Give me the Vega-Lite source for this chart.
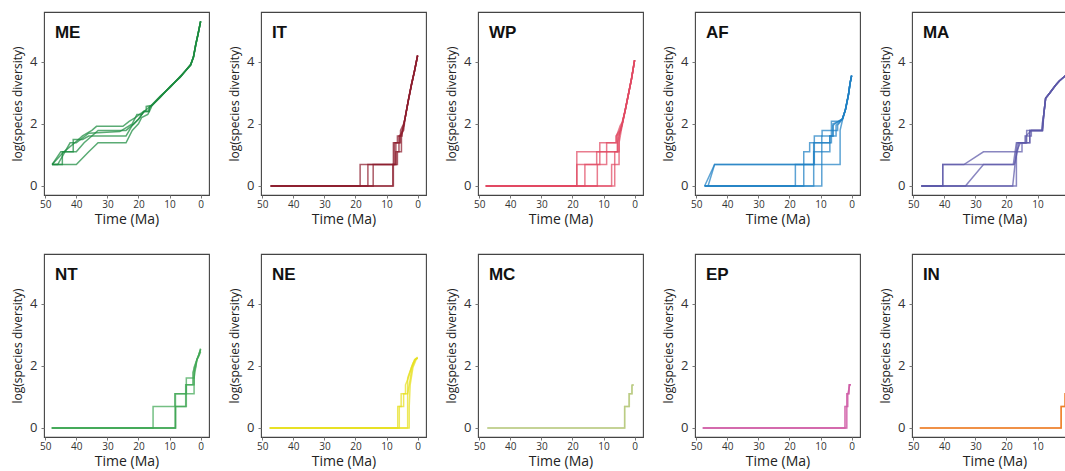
{
  "$schema": "https://vega.github.io/schema/vega-lite/v6.json",
  "padding": {"left": 11, "top": 11, "right": 0, "bottom": 0},
  "background": "white",
  "data": {"values": [
    {"region":"ME","rep":1,"t":47.8,"y":0.69},{"region":"ME","rep":1,"t":44,"y":1.1},{"region":"ME","rep":1,"t":40.5,"y":1.39},{"region":"ME","rep":1,"t":38,"y":1.61},{"region":"ME","rep":1,"t":35,"y":1.79},{"region":"ME","rep":1,"t":33.5,"y":1.92},{"region":"ME","rep":1,"t":25,"y":1.92},{"region":"ME","rep":1,"t":23,"y":2.08},{"region":"ME","rep":1,"t":21,"y":2.2},{"region":"ME","rep":1,"t":19,"y":2.35},{"region":"ME","rep":1,"t":17.5,"y":2.45},{"region":"ME","rep":1,"t":17.5,"y":2.56},
    {"region":"ME","rep":1,"t":15.6,"y":2.6},{"region":"ME","rep":1,"t":12.9,"y":2.88},{"region":"ME","rep":1,"t":9.7,"y":3.2},{"region":"ME","rep":1,"t":6.5,"y":3.52},{"region":"ME","rep":1,"t":3.2,"y":3.9},{"region":"ME","rep":1,"t":2.3,"y":4.15},{"region":"ME","rep":1,"t":1.6,"y":4.53},{"region":"ME","rep":1,"t":0.8,"y":4.9},{"region":"ME","rep":1,"t":0,"y":5.3},
    {"region":"ME","rep":2,"t":47.8,"y":0.69},{"region":"ME","rep":2,"t":44.5,"y":0.69},{"region":"ME","rep":2,"t":44.5,"y":1.1},{"region":"ME","rep":2,"t":40,"y":1.1},{"region":"ME","rep":2,"t":37.5,"y":1.39},{"region":"ME","rep":2,"t":35,"y":1.61},{"region":"ME","rep":2,"t":33,"y":1.79},{"region":"ME","rep":2,"t":24,"y":1.79},{"region":"ME","rep":2,"t":21.5,"y":2.0},{"region":"ME","rep":2,"t":19.5,"y":2.2},{"region":"ME","rep":2,"t":18.3,"y":2.4},{"region":"ME","rep":2,"t":16.5,"y":2.4},{"region":"ME","rep":2,"t":16.5,"y":2.55},
    {"region":"ME","rep":2,"t":15.6,"y":2.6},{"region":"ME","rep":2,"t":12.9,"y":2.86},{"region":"ME","rep":2,"t":9.7,"y":3.22},{"region":"ME","rep":2,"t":6.5,"y":3.5},{"region":"ME","rep":2,"t":3.2,"y":3.92},{"region":"ME","rep":2,"t":2.3,"y":4.15},{"region":"ME","rep":2,"t":1.6,"y":4.53},{"region":"ME","rep":2,"t":0.8,"y":4.9},{"region":"ME","rep":2,"t":0,"y":5.3},
    {"region":"ME","rep":3,"t":47.8,"y":0.69},{"region":"ME","rep":3,"t":40,"y":0.69},{"region":"ME","rep":3,"t":36,"y":1.1},{"region":"ME","rep":3,"t":33,"y":1.39},{"region":"ME","rep":3,"t":24,"y":1.39},{"region":"ME","rep":3,"t":22,"y":1.79},{"region":"ME","rep":3,"t":20,"y":2.0},{"region":"ME","rep":3,"t":19,"y":2.2},{"region":"ME","rep":3,"t":17,"y":2.3},{"region":"ME","rep":3,"t":16,"y":2.5},
    {"region":"ME","rep":3,"t":15.6,"y":2.6},{"region":"ME","rep":3,"t":12.9,"y":2.88},{"region":"ME","rep":3,"t":9.7,"y":3.2},{"region":"ME","rep":3,"t":6.5,"y":3.52},{"region":"ME","rep":3,"t":3.2,"y":3.9},{"region":"ME","rep":3,"t":2.3,"y":4.15},{"region":"ME","rep":3,"t":1.6,"y":4.53},{"region":"ME","rep":3,"t":0.8,"y":4.9},{"region":"ME","rep":3,"t":0,"y":5.3},
    {"region":"ME","rep":4,"t":47.8,"y":0.69},{"region":"ME","rep":4,"t":45,"y":1.1},{"region":"ME","rep":4,"t":41,"y":1.1},{"region":"ME","rep":4,"t":41,"y":1.5},{"region":"ME","rep":4,"t":38,"y":1.5},{"region":"ME","rep":4,"t":36,"y":1.61},{"region":"ME","rep":4,"t":24,"y":1.61},{"region":"ME","rep":4,"t":22,"y":1.95},{"region":"ME","rep":4,"t":20,"y":2.15},{"region":"ME","rep":4,"t":18.3,"y":2.4},{"region":"ME","rep":4,"t":17,"y":2.4},
    {"region":"ME","rep":4,"t":15.6,"y":2.62},{"region":"ME","rep":4,"t":12.9,"y":2.9},{"region":"ME","rep":4,"t":9.7,"y":3.18},{"region":"ME","rep":4,"t":6.5,"y":3.54},{"region":"ME","rep":4,"t":3.2,"y":3.88},{"region":"ME","rep":4,"t":2.3,"y":4.15},{"region":"ME","rep":4,"t":1.6,"y":4.53},{"region":"ME","rep":4,"t":0.8,"y":4.9},{"region":"ME","rep":4,"t":0,"y":5.3},
    {"region":"ME","rep":5,"t":47.8,"y":0.69},{"region":"ME","rep":5,"t":46,"y":0.69},{"region":"ME","rep":5,"t":42,"y":1.39},{"region":"ME","rep":5,"t":40,"y":1.39},{"region":"ME","rep":5,"t":36,"y":1.7},{"region":"ME","rep":5,"t":26,"y":1.75},{"region":"ME","rep":5,"t":22,"y":2.0},{"region":"ME","rep":5,"t":20.5,"y":2.3},{"region":"ME","rep":5,"t":19,"y":2.3},{"region":"ME","rep":5,"t":17,"y":2.5},
    {"region":"ME","rep":5,"t":15.6,"y":2.6},{"region":"ME","rep":5,"t":12.9,"y":2.88},{"region":"ME","rep":5,"t":9.7,"y":3.2},{"region":"ME","rep":5,"t":6.5,"y":3.52},{"region":"ME","rep":5,"t":3.2,"y":3.9},{"region":"ME","rep":5,"t":2.3,"y":4.15},{"region":"ME","rep":5,"t":1.6,"y":4.53},{"region":"ME","rep":5,"t":0.8,"y":4.9},{"region":"ME","rep":5,"t":0,"y":5.3},

    {"region":"IT","rep":1,"t":47.3,"y":0},{"region":"IT","rep":1,"t":18.5,"y":0},{"region":"IT","rep":1,"t":18.5,"y":0.69},{"region":"IT","rep":1,"t":7.5,"y":0.69},{"region":"IT","rep":1,"t":7.5,"y":1.39},{"region":"IT","rep":1,"t":6,"y":1.39},{"region":"IT","rep":1,"t":6,"y":1.61},{"region":"IT","rep":1,"t":5,"y":1.61},{"region":"IT","rep":1,"t":5,"y":1.79},{"region":"IT","rep":1,"t":4.5,"y":1.95},{"region":"IT","rep":1,"t":4,"y":2.2},{"region":"IT","rep":1,"t":3,"y":2.75},{"region":"IT","rep":1,"t":2,"y":3.25},{"region":"IT","rep":1,"t":1,"y":3.7},{"region":"IT","rep":1,"t":0,"y":4.2},
    {"region":"IT","rep":2,"t":47.3,"y":0},{"region":"IT","rep":2,"t":16,"y":0},{"region":"IT","rep":2,"t":16,"y":0.69},{"region":"IT","rep":2,"t":7,"y":0.69},{"region":"IT","rep":2,"t":7,"y":1.1},{"region":"IT","rep":2,"t":6,"y":1.1},{"region":"IT","rep":2,"t":6,"y":1.39},{"region":"IT","rep":2,"t":5.5,"y":1.39},{"region":"IT","rep":2,"t":5.5,"y":1.61},{"region":"IT","rep":2,"t":4.5,"y":1.79},{"region":"IT","rep":2,"t":4,"y":2.2},{"region":"IT","rep":2,"t":3,"y":2.75},{"region":"IT","rep":2,"t":2,"y":3.25},{"region":"IT","rep":2,"t":1,"y":3.7},{"region":"IT","rep":2,"t":0,"y":4.2},
    {"region":"IT","rep":3,"t":47.3,"y":0},{"region":"IT","rep":3,"t":14.3,"y":0},{"region":"IT","rep":3,"t":14.3,"y":0.69},{"region":"IT","rep":3,"t":6.5,"y":0.69},{"region":"IT","rep":3,"t":6.5,"y":1.1},{"region":"IT","rep":3,"t":5.2,"y":1.1},{"region":"IT","rep":3,"t":5.2,"y":1.61},{"region":"IT","rep":3,"t":4.5,"y":1.95},{"region":"IT","rep":3,"t":4,"y":2.2},{"region":"IT","rep":3,"t":3,"y":2.75},{"region":"IT","rep":3,"t":2,"y":3.25},{"region":"IT","rep":3,"t":1,"y":3.7},{"region":"IT","rep":3,"t":0,"y":4.2},
    {"region":"IT","rep":4,"t":47.3,"y":0},{"region":"IT","rep":4,"t":7.8,"y":0},{"region":"IT","rep":4,"t":7.8,"y":1.39},{"region":"IT","rep":4,"t":6.5,"y":1.39},{"region":"IT","rep":4,"t":6.5,"y":1.61},{"region":"IT","rep":4,"t":5.5,"y":1.61},{"region":"IT","rep":4,"t":5.5,"y":1.79},{"region":"IT","rep":4,"t":4.5,"y":2.0},{"region":"IT","rep":4,"t":4,"y":2.2},{"region":"IT","rep":4,"t":3,"y":2.75},{"region":"IT","rep":4,"t":2,"y":3.25},{"region":"IT","rep":4,"t":1,"y":3.7},{"region":"IT","rep":4,"t":0,"y":4.2},
    {"region":"IT","rep":5,"t":47.3,"y":0},{"region":"IT","rep":5,"t":8,"y":0},{"region":"IT","rep":5,"t":8,"y":0.69},{"region":"IT","rep":5,"t":7,"y":0.69},{"region":"IT","rep":5,"t":7,"y":1.39},{"region":"IT","rep":5,"t":5.8,"y":1.39},{"region":"IT","rep":5,"t":5.8,"y":1.61},{"region":"IT","rep":5,"t":4.8,"y":1.79},{"region":"IT","rep":5,"t":4,"y":2.2},{"region":"IT","rep":5,"t":3,"y":2.75},{"region":"IT","rep":5,"t":2,"y":3.25},{"region":"IT","rep":5,"t":1,"y":3.7},{"region":"IT","rep":5,"t":0,"y":4.2},

    {"region":"WP","rep":1,"t":47.9,"y":0},{"region":"WP","rep":1,"t":18.6,"y":0},{"region":"WP","rep":1,"t":18.6,"y":1.1},{"region":"WP","rep":1,"t":5.5,"y":1.1},{"region":"WP","rep":1,"t":5.5,"y":1.61},{"region":"WP","rep":1,"t":4.5,"y":1.79},{"region":"WP","rep":1,"t":4,"y":2.0},{"region":"WP","rep":1,"t":3,"y":2.45},{"region":"WP","rep":1,"t":2,"y":2.95},{"region":"WP","rep":1,"t":1,"y":3.45},{"region":"WP","rep":1,"t":0,"y":4.05},
    {"region":"WP","rep":2,"t":47.9,"y":0},{"region":"WP","rep":2,"t":18.6,"y":0},{"region":"WP","rep":2,"t":18.6,"y":0.69},{"region":"WP","rep":2,"t":12.2,"y":0.69},{"region":"WP","rep":2,"t":12.2,"y":1.1},{"region":"WP","rep":2,"t":5,"y":1.1},{"region":"WP","rep":2,"t":5,"y":1.61},{"region":"WP","rep":2,"t":4.5,"y":1.79},{"region":"WP","rep":2,"t":4,"y":2.0},{"region":"WP","rep":2,"t":3,"y":2.45},{"region":"WP","rep":2,"t":2,"y":2.95},{"region":"WP","rep":2,"t":1,"y":3.45},{"region":"WP","rep":2,"t":0,"y":4.05},
    {"region":"WP","rep":3,"t":47.9,"y":0},{"region":"WP","rep":3,"t":16,"y":0},{"region":"WP","rep":3,"t":16,"y":0.69},{"region":"WP","rep":3,"t":11.2,"y":0.69},{"region":"WP","rep":3,"t":11.2,"y":1.39},{"region":"WP","rep":3,"t":6,"y":1.39},{"region":"WP","rep":3,"t":6,"y":1.61},{"region":"WP","rep":3,"t":4.8,"y":1.79},{"region":"WP","rep":3,"t":4,"y":2.0},{"region":"WP","rep":3,"t":3,"y":2.45},{"region":"WP","rep":3,"t":2,"y":2.95},{"region":"WP","rep":3,"t":1,"y":3.45},{"region":"WP","rep":3,"t":0,"y":4.05},
    {"region":"WP","rep":4,"t":47.9,"y":0},{"region":"WP","rep":4,"t":12,"y":0},{"region":"WP","rep":4,"t":12,"y":0.69},{"region":"WP","rep":4,"t":9,"y":0.69},{"region":"WP","rep":4,"t":9,"y":1.39},{"region":"WP","rep":4,"t":5.8,"y":1.39},{"region":"WP","rep":4,"t":5.8,"y":1.61},{"region":"WP","rep":4,"t":4.6,"y":1.95},{"region":"WP","rep":4,"t":4,"y":2.05},{"region":"WP","rep":4,"t":3,"y":2.45},{"region":"WP","rep":4,"t":2,"y":2.95},{"region":"WP","rep":4,"t":1,"y":3.45},{"region":"WP","rep":4,"t":0,"y":4.05},
    {"region":"WP","rep":5,"t":47.9,"y":0},{"region":"WP","rep":5,"t":7.4,"y":0},{"region":"WP","rep":5,"t":7.4,"y":0.69},{"region":"WP","rep":5,"t":6.4,"y":0.69},{"region":"WP","rep":5,"t":6.4,"y":1.1},{"region":"WP","rep":5,"t":5.5,"y":1.1},{"region":"WP","rep":5,"t":5.5,"y":1.39},{"region":"WP","rep":5,"t":4.6,"y":1.79},{"region":"WP","rep":5,"t":4,"y":2.0},{"region":"WP","rep":5,"t":3,"y":2.45},{"region":"WP","rep":5,"t":2,"y":2.95},{"region":"WP","rep":5,"t":1,"y":3.45},{"region":"WP","rep":5,"t":0,"y":4.05},
    {"region":"WP","rep":6,"t":47.9,"y":0},{"region":"WP","rep":6,"t":6.4,"y":0},{"region":"WP","rep":6,"t":6.4,"y":0.69},{"region":"WP","rep":6,"t":5,"y":0.69},{"region":"WP","rep":6,"t":5,"y":1.39},{"region":"WP","rep":6,"t":4.3,"y":1.79},{"region":"WP","rep":6,"t":3,"y":2.45},{"region":"WP","rep":6,"t":2,"y":2.95},{"region":"WP","rep":6,"t":1,"y":3.45},{"region":"WP","rep":6,"t":0,"y":4.05},

    {"region":"AF","rep":1,"t":47.3,"y":0},{"region":"AF","rep":1,"t":44.1,"y":0.69},{"region":"AF","rep":1,"t":15.4,"y":0.69},{"region":"AF","rep":1,"t":15.4,"y":1.1},{"region":"AF","rep":1,"t":13.5,"y":1.1},{"region":"AF","rep":1,"t":13.5,"y":1.39},{"region":"AF","rep":1,"t":12,"y":1.39},{"region":"AF","rep":1,"t":12,"y":1.61},{"region":"AF","rep":1,"t":9.5,"y":1.61},{"region":"AF","rep":1,"t":9.5,"y":1.79},{"region":"AF","rep":1,"t":6.5,"y":1.79},{"region":"AF","rep":1,"t":6.5,"y":2.08},{"region":"AF","rep":1,"t":4,"y":2.08},{"region":"AF","rep":1,"t":3,"y":2.15},{"region":"AF","rep":1,"t":2,"y":2.45},{"region":"AF","rep":1,"t":1,"y":2.95},{"region":"AF","rep":1,"t":0.5,"y":3.3},{"region":"AF","rep":1,"t":0,"y":3.55},
    {"region":"AF","rep":2,"t":46.2,"y":0},{"region":"AF","rep":2,"t":44.1,"y":0.69},{"region":"AF","rep":2,"t":3.7,"y":0.69},{"region":"AF","rep":2,"t":3.7,"y":1.79},{"region":"AF","rep":2,"t":3,"y":2.1},{"region":"AF","rep":2,"t":2,"y":2.45},{"region":"AF","rep":2,"t":1,"y":2.95},{"region":"AF","rep":2,"t":0.5,"y":3.3},{"region":"AF","rep":2,"t":0,"y":3.55},
    {"region":"AF","rep":3,"t":47.3,"y":0},{"region":"AF","rep":3,"t":18.1,"y":0},{"region":"AF","rep":3,"t":18.1,"y":0.69},{"region":"AF","rep":3,"t":12.2,"y":0.69},{"region":"AF","rep":3,"t":12.2,"y":1.1},{"region":"AF","rep":3,"t":9.6,"y":1.1},{"region":"AF","rep":3,"t":9.6,"y":1.39},{"region":"AF","rep":3,"t":6.5,"y":1.39},{"region":"AF","rep":3,"t":6.5,"y":1.79},{"region":"AF","rep":3,"t":4.5,"y":1.79},{"region":"AF","rep":3,"t":4.5,"y":1.95},{"region":"AF","rep":3,"t":3,"y":2.15},{"region":"AF","rep":3,"t":2,"y":2.45},{"region":"AF","rep":3,"t":1,"y":2.95},{"region":"AF","rep":3,"t":0.5,"y":3.3},{"region":"AF","rep":3,"t":0,"y":3.55},
    {"region":"AF","rep":4,"t":47.3,"y":0},{"region":"AF","rep":4,"t":15.4,"y":0},{"region":"AF","rep":4,"t":15.4,"y":0.69},{"region":"AF","rep":4,"t":12,"y":0.69},{"region":"AF","rep":4,"t":12,"y":1.39},{"region":"AF","rep":4,"t":7,"y":1.39},{"region":"AF","rep":4,"t":7,"y":1.61},{"region":"AF","rep":4,"t":6,"y":1.61},{"region":"AF","rep":4,"t":6,"y":2.0},{"region":"AF","rep":4,"t":4,"y":2.08},{"region":"AF","rep":4,"t":3,"y":2.15},{"region":"AF","rep":4,"t":2,"y":2.45},{"region":"AF","rep":4,"t":1,"y":2.95},{"region":"AF","rep":4,"t":0.5,"y":3.3},{"region":"AF","rep":4,"t":0,"y":3.55},
    {"region":"AF","rep":5,"t":47.3,"y":0},{"region":"AF","rep":5,"t":9.6,"y":0},{"region":"AF","rep":5,"t":9.6,"y":1.1},{"region":"AF","rep":5,"t":7,"y":1.1},{"region":"AF","rep":5,"t":7,"y":1.61},{"region":"AF","rep":5,"t":5,"y":1.61},{"region":"AF","rep":5,"t":5,"y":1.95},{"region":"AF","rep":5,"t":3,"y":2.15},{"region":"AF","rep":5,"t":2,"y":2.45},{"region":"AF","rep":5,"t":1,"y":2.95},{"region":"AF","rep":5,"t":0.5,"y":3.3},{"region":"AF","rep":5,"t":0,"y":3.55},
    {"region":"AF","rep":6,"t":47.3,"y":0},{"region":"AF","rep":6,"t":12.2,"y":0},{"region":"AF","rep":6,"t":12.2,"y":1.39},{"region":"AF","rep":6,"t":9.6,"y":1.39},{"region":"AF","rep":6,"t":9.6,"y":1.61},{"region":"AF","rep":6,"t":6,"y":1.61},{"region":"AF","rep":6,"t":6,"y":1.95},{"region":"AF","rep":6,"t":4,"y":2.1},{"region":"AF","rep":6,"t":3,"y":2.15},{"region":"AF","rep":6,"t":2,"y":2.45},{"region":"AF","rep":6,"t":1,"y":2.95},{"region":"AF","rep":6,"t":0.5,"y":3.3},{"region":"AF","rep":6,"t":0,"y":3.55},

    {"region":"MA","rep":1,"t":47.4,"y":0},{"region":"MA","rep":1,"t":40.5,"y":0},{"region":"MA","rep":1,"t":40.5,"y":0.69},{"region":"MA","rep":1,"t":33.7,"y":0.69},{"region":"MA","rep":1,"t":27.4,"y":1.1},{"region":"MA","rep":1,"t":16.5,"y":1.1},{"region":"MA","rep":1,"t":16,"y":1.39},{"region":"MA","rep":1,"t":13.5,"y":1.39},{"region":"MA","rep":1,"t":13.5,"y":1.79},{"region":"MA","rep":1,"t":8.5,"y":1.79},{"region":"MA","rep":1,"t":8,"y":2.3},{"region":"MA","rep":1,"t":7.4,"y":2.82},{"region":"MA","rep":1,"t":6,"y":3.0},{"region":"MA","rep":1,"t":4.2,"y":3.24},{"region":"MA","rep":1,"t":3,"y":3.38},{"region":"MA","rep":1,"t":1.6,"y":3.5},{"region":"MA","rep":1,"t":0,"y":3.65},
    {"region":"MA","rep":2,"t":47.4,"y":0},{"region":"MA","rep":2,"t":40.5,"y":0},{"region":"MA","rep":2,"t":40.5,"y":0.69},{"region":"MA","rep":2,"t":17.5,"y":0.69},{"region":"MA","rep":2,"t":16.5,"y":1.1},{"region":"MA","rep":2,"t":15,"y":1.1},{"region":"MA","rep":2,"t":15,"y":1.39},{"region":"MA","rep":2,"t":12.5,"y":1.39},{"region":"MA","rep":2,"t":12.5,"y":1.79},{"region":"MA","rep":2,"t":8.5,"y":1.79},{"region":"MA","rep":2,"t":8.5,"y":2.0},{"region":"MA","rep":2,"t":8,"y":2.3},{"region":"MA","rep":2,"t":7.4,"y":2.82},{"region":"MA","rep":2,"t":6,"y":3.0},{"region":"MA","rep":2,"t":4.2,"y":3.24},{"region":"MA","rep":2,"t":3,"y":3.38},{"region":"MA","rep":2,"t":1.6,"y":3.5},{"region":"MA","rep":2,"t":0,"y":3.65},
    {"region":"MA","rep":3,"t":47.4,"y":0},{"region":"MA","rep":3,"t":33.2,"y":0},{"region":"MA","rep":3,"t":27.4,"y":0.69},{"region":"MA","rep":3,"t":17.8,"y":0.69},{"region":"MA","rep":3,"t":16.8,"y":1.39},{"region":"MA","rep":3,"t":13.7,"y":1.39},{"region":"MA","rep":3,"t":13.7,"y":1.61},{"region":"MA","rep":3,"t":12,"y":1.79},{"region":"MA","rep":3,"t":8.5,"y":1.79},{"region":"MA","rep":3,"t":8,"y":2.3},{"region":"MA","rep":3,"t":7.4,"y":2.82},{"region":"MA","rep":3,"t":6,"y":3.0},{"region":"MA","rep":3,"t":4.2,"y":3.24},{"region":"MA","rep":3,"t":3,"y":3.38},{"region":"MA","rep":3,"t":1.6,"y":3.5},{"region":"MA","rep":3,"t":0,"y":3.65},
    {"region":"MA","rep":4,"t":47.4,"y":0},{"region":"MA","rep":4,"t":18,"y":0},{"region":"MA","rep":4,"t":16.5,"y":1.39},{"region":"MA","rep":4,"t":14,"y":1.39},{"region":"MA","rep":4,"t":14,"y":1.61},{"region":"MA","rep":4,"t":12,"y":1.61},{"region":"MA","rep":4,"t":12,"y":1.79},{"region":"MA","rep":4,"t":8.3,"y":1.79},{"region":"MA","rep":4,"t":8,"y":2.3},{"region":"MA","rep":4,"t":7.4,"y":2.82},{"region":"MA","rep":4,"t":6,"y":3.0},{"region":"MA","rep":4,"t":4.2,"y":3.24},{"region":"MA","rep":4,"t":3,"y":3.38},{"region":"MA","rep":4,"t":1.6,"y":3.5},{"region":"MA","rep":4,"t":0,"y":3.65},
    {"region":"MA","rep":5,"t":47.4,"y":0},{"region":"MA","rep":5,"t":16.8,"y":0},{"region":"MA","rep":5,"t":16.8,"y":1.1},{"region":"MA","rep":5,"t":15.5,"y":1.39},{"region":"MA","rep":5,"t":12.5,"y":1.39},{"region":"MA","rep":5,"t":12.5,"y":1.79},{"region":"MA","rep":5,"t":8.5,"y":1.79},{"region":"MA","rep":5,"t":8,"y":2.3},{"region":"MA","rep":5,"t":7.4,"y":2.82},{"region":"MA","rep":5,"t":6,"y":3.0},{"region":"MA","rep":5,"t":4.2,"y":3.24},{"region":"MA","rep":5,"t":3,"y":3.38},{"region":"MA","rep":5,"t":1.6,"y":3.5},{"region":"MA","rep":5,"t":0,"y":3.65},

    {"region":"NT","rep":1,"t":47.9,"y":0},{"region":"NT","rep":1,"t":15.3,"y":0},{"region":"NT","rep":1,"t":15.3,"y":0.69},{"region":"NT","rep":1,"t":8.3,"y":0.69},{"region":"NT","rep":1,"t":8.3,"y":1.1},{"region":"NT","rep":1,"t":4.6,"y":1.1},{"region":"NT","rep":1,"t":4.6,"y":1.61},{"region":"NT","rep":1,"t":2.1,"y":1.61},{"region":"NT","rep":1,"t":2.1,"y":1.95},{"region":"NT","rep":1,"t":1.2,"y":2.2},{"region":"NT","rep":1,"t":0.6,"y":2.35},{"region":"NT","rep":1,"t":0,"y":2.55},
    {"region":"NT","rep":2,"t":47.9,"y":0},{"region":"NT","rep":2,"t":8.1,"y":0},{"region":"NT","rep":2,"t":8.1,"y":0.69},{"region":"NT","rep":2,"t":4.8,"y":0.69},{"region":"NT","rep":2,"t":4.8,"y":1.39},{"region":"NT","rep":2,"t":2.5,"y":1.39},{"region":"NT","rep":2,"t":2.5,"y":1.79},{"region":"NT","rep":2,"t":1.5,"y":2.08},{"region":"NT","rep":2,"t":1.2,"y":2.2},{"region":"NT","rep":2,"t":0.6,"y":2.35},{"region":"NT","rep":2,"t":0,"y":2.5},
    {"region":"NT","rep":3,"t":47.9,"y":0},{"region":"NT","rep":3,"t":8.1,"y":0},{"region":"NT","rep":3,"t":8.1,"y":1.1},{"region":"NT","rep":3,"t":4.6,"y":1.1},{"region":"NT","rep":3,"t":4.6,"y":1.39},{"region":"NT","rep":3,"t":2.1,"y":1.39},{"region":"NT","rep":3,"t":2.1,"y":1.79},{"region":"NT","rep":3,"t":1.5,"y":2.0},{"region":"NT","rep":3,"t":1.2,"y":2.2},{"region":"NT","rep":3,"t":0.6,"y":2.3},{"region":"NT","rep":3,"t":0,"y":2.45},
    {"region":"NT","rep":4,"t":47.9,"y":0},{"region":"NT","rep":4,"t":8.1,"y":0},{"region":"NT","rep":4,"t":8.1,"y":0.69},{"region":"NT","rep":4,"t":4.6,"y":0.69},{"region":"NT","rep":4,"t":4.6,"y":1.1},{"region":"NT","rep":4,"t":2.1,"y":1.1},{"region":"NT","rep":4,"t":2.1,"y":1.61},{"region":"NT","rep":4,"t":1.5,"y":2.0},{"region":"NT","rep":4,"t":1.2,"y":2.2},{"region":"NT","rep":4,"t":0.6,"y":2.35},{"region":"NT","rep":4,"t":0,"y":2.55},

    {"region":"NE","rep":1,"t":47.6,"y":0},{"region":"NE","rep":1,"t":6.4,"y":0},{"region":"NE","rep":1,"t":6.4,"y":0.69},{"region":"NE","rep":1,"t":5.3,"y":0.69},{"region":"NE","rep":1,"t":5.3,"y":1.1},{"region":"NE","rep":1,"t":3.9,"y":1.1},{"region":"NE","rep":1,"t":3.9,"y":1.39},{"region":"NE","rep":1,"t":3,"y":1.61},{"region":"NE","rep":1,"t":2,"y":1.95},{"region":"NE","rep":1,"t":1,"y":2.2},{"region":"NE","rep":1,"t":0,"y":2.28},
    {"region":"NE","rep":2,"t":47.6,"y":0},{"region":"NE","rep":2,"t":5.9,"y":0},{"region":"NE","rep":2,"t":5.9,"y":0.69},{"region":"NE","rep":2,"t":4.5,"y":0.69},{"region":"NE","rep":2,"t":4.5,"y":1.1},{"region":"NE","rep":2,"t":3.2,"y":1.1},{"region":"NE","rep":2,"t":3.2,"y":1.61},{"region":"NE","rep":2,"t":1.5,"y":2.08},{"region":"NE","rep":2,"t":0.7,"y":2.22},{"region":"NE","rep":2,"t":0,"y":2.25},
    {"region":"NE","rep":3,"t":47.6,"y":0},{"region":"NE","rep":3,"t":3.2,"y":0},{"region":"NE","rep":3,"t":3.2,"y":1.1},{"region":"NE","rep":3,"t":2.7,"y":1.39},{"region":"NE","rep":3,"t":1.8,"y":1.95},{"region":"NE","rep":3,"t":0.8,"y":2.2},{"region":"NE","rep":3,"t":0,"y":2.25},
    {"region":"NE","rep":4,"t":47.6,"y":0},{"region":"NE","rep":4,"t":2.7,"y":0},{"region":"NE","rep":4,"t":2.7,"y":0.69},{"region":"NE","rep":4,"t":2.4,"y":1.39},{"region":"NE","rep":4,"t":1.5,"y":1.95},{"region":"NE","rep":4,"t":0.5,"y":2.2},{"region":"NE","rep":4,"t":0,"y":2.25},

    {"region":"MC","rep":1,"t":47.4,"y":0},{"region":"MC","rep":1,"t":3.2,"y":0},{"region":"MC","rep":1,"t":3.2,"y":0.69},{"region":"MC","rep":1,"t":1.8,"y":0.69},{"region":"MC","rep":1,"t":1.8,"y":1.1},{"region":"MC","rep":1,"t":0.9,"y":1.1},{"region":"MC","rep":1,"t":0.9,"y":1.36},{"region":"MC","rep":1,"t":0.3,"y":1.39},
    {"region":"MC","rep":2,"t":47.4,"y":0},{"region":"MC","rep":2,"t":3.2,"y":0},{"region":"MC","rep":2,"t":3.2,"y":0.69},{"region":"MC","rep":2,"t":1.7,"y":0.69},{"region":"MC","rep":2,"t":1.7,"y":1.1},{"region":"MC","rep":2,"t":0.8,"y":1.1},{"region":"MC","rep":2,"t":0.8,"y":1.39},{"region":"MC","rep":2,"t":0.3,"y":1.39},

    {"region":"EP","rep":1,"t":47.9,"y":0},{"region":"EP","rep":1,"t":2.2,"y":0},{"region":"EP","rep":1,"t":2.2,"y":0.69},{"region":"EP","rep":1,"t":1.5,"y":0.69},{"region":"EP","rep":1,"t":1.5,"y":1.1},{"region":"EP","rep":1,"t":0.8,"y":1.1},{"region":"EP","rep":1,"t":0.8,"y":1.39},{"region":"EP","rep":1,"t":0.3,"y":1.39},
    {"region":"EP","rep":2,"t":47.9,"y":0},{"region":"EP","rep":2,"t":1.8,"y":0},{"region":"EP","rep":2,"t":1.8,"y":0.69},{"region":"EP","rep":2,"t":1.2,"y":0.69},{"region":"EP","rep":2,"t":1.2,"y":1.1},{"region":"EP","rep":2,"t":0.6,"y":1.39},{"region":"EP","rep":2,"t":0.2,"y":1.39},
    {"region":"EP","rep":3,"t":47.9,"y":0},{"region":"EP","rep":3,"t":1.5,"y":0},{"region":"EP","rep":3,"t":1.5,"y":1.1},{"region":"EP","rep":3,"t":1,"y":1.1},{"region":"EP","rep":3,"t":0.7,"y":1.39},{"region":"EP","rep":3,"t":0.3,"y":1.39},

    {"region":"IN","rep":1,"t":47.9,"y":0},{"region":"IN","rep":1,"t":2.4,"y":0},{"region":"IN","rep":1,"t":2.4,"y":0.69},{"region":"IN","rep":1,"t":1.2,"y":0.69},{"region":"IN","rep":1,"t":1.2,"y":1.1},{"region":"IN","rep":1,"t":0.5,"y":1.1},{"region":"IN","rep":1,"t":0.5,"y":1.39},{"region":"IN","rep":1,"t":0,"y":1.39},
    {"region":"IN","rep":2,"t":47.9,"y":0},{"region":"IN","rep":2,"t":2.4,"y":0},{"region":"IN","rep":2,"t":2.4,"y":0.69},{"region":"IN","rep":2,"t":1,"y":0.69},{"region":"IN","rep":2,"t":1,"y":1.1},{"region":"IN","rep":2,"t":0,"y":1.1}
  ]},
  "facet": {
    "field": "region",
    "type": "nominal",
    "sort": ["ME","IT","WP","AF","MA","NT","NE","MC","EP","IN"],
    "title": null,
    "header": {"title": null, "labels": false, "labelExpr": "''", "labelFontSize": 0, "labelPadding": 0}
  },
  "columns": 5,
  "spacing": {"column": 52, "row": 59},
  "bounds": "flush",
  "resolve": {"axis": {"x": "independent", "y": "independent"}},
  "spec": {
    "width": 165,
    "height": 183,
    "layer": [
      {
        "mark": {"type": "line", "strokeWidth": 1.5, "opacity": 0.72, "clip": true},
        "encoding": {
          "x": {"field": "t", "type": "quantitative", "title": "Time (Ma)",
                "scale": {"domain": [-2.7, 50.4], "reverse": true, "nice": false, "zero": false},
                "axis": {"values": [50, 40, 30, 20, 10, 0], "labelOverlap": false, "labelFlush": false, "labelBound": false}},
          "y": {"field": "y", "type": "quantitative", "title": "log(species diversity)",
                "scale": {"domain": [-0.29, 5.6], "nice": false, "zero": false},
                "axis": {"values": [0, 2, 4], "labelOverlap": false}},
          "color": {"field": "region", "type": "nominal", "legend": null,
                    "scale": {"domain": ["ME","IT","WP","AF","MA","NT","NE","MC","EP","IN"],
                              "range": ["#1b8a3f","#8c1c2c","#e04a62","#1f80c4","#5b57a8","#3ea653","#e6df1c","#b5c77a","#cf5aa5","#ec7417"]}},
          "detail": {"field": "rep", "type": "nominal"},
          "order": [{"field": "t", "sort": "descending"}, {"field": "y", "sort": "ascending"}]
        }
      },
      {
        "transform": [{"aggregate": [{"op": "count", "as": "n"}], "groupby": ["region"]}],
        "mark": {"type": "text", "align": "left", "baseline": "middle", "font": "Liberation Sans", "fontWeight": "bold", "fontSize": 17, "color": "#111"},
        "encoding": {
          "x": {"datum": 46.9, "type": "quantitative", "title": "Time (Ma)",
                "axis": {"values": [50, 40, 30, 20, 10, 0], "labelOverlap": false, "labelFlush": false, "labelBound": false}},
          "y": {"datum": 4.92, "type": "quantitative", "title": "log(species diversity)",
                "axis": {"values": [0, 2, 4], "labelOverlap": false}},
          "text": {"field": "region", "type": "nominal"}
        }
      }
    ]
  },
  "config": {
    "header": {"labels": false, "title": null},
    "view": {"stroke": "#444", "strokeWidth": 1.1},
    "axis": {"domain": false, "grid": false, "ticks": true, "tickSize": 3, "tickColor": "#777",
             "labelFont": "Open Sans", "titleFont": "Open Sans", "titleFontWeight": "normal",
             "labelColor": "#333", "titleColor": "#222"},
    "axisX": {"labelFontSize": 10, "labelPadding": 1, "titleFontSize": 14, "titlePadding": 3, "labelOverlap": false, "labelFlush": false},
    "axisY": {"labelFontSize": 13, "labelPadding": 4, "titleFontSize": 12, "titlePadding": 5}
  }
}
